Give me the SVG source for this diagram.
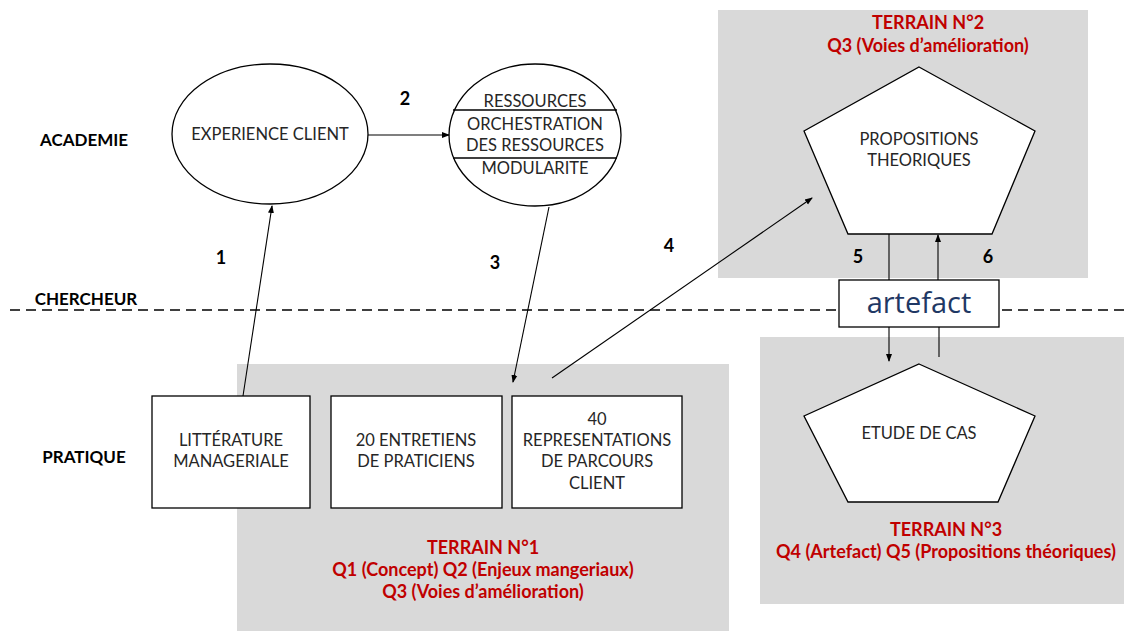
<svg xmlns="http://www.w3.org/2000/svg" width="1124" height="631" viewBox="0 0 1124 631">
<style>
text{font-family:Lato,"Open Sans",sans-serif;fill:#262626;}
.t{font-size:16.5px;text-anchor:middle;}
.lab{font-size:17px;font-weight:bold;fill:#000;text-anchor:middle;}
.num{font-size:18px;font-weight:bold;fill:#000;text-anchor:middle;}
.red{font-size:18px;font-weight:bold;fill:#c00000;text-anchor:middle;}
.shape{fill:#fff;stroke:#000;stroke-width:1.3;}
.bg{fill:#d9d9d9;}
.c{stroke:#000;stroke-width:1.1;fill:none;}
</style>
<defs>
<marker id="a" markerWidth="8" markerHeight="8" refX="7" refY="4" orient="auto" markerUnits="userSpaceOnUse">
<path d="M0,1 L8,4 L0,7 Z" fill="#000"/>
</marker>
</defs>
<rect width="1124" height="631" fill="#fff"/>
<g id="terrain1"><rect class="bg" x="237" y="364" width="492" height="267"/>
<text class="red" x="483" y="554">TERRAIN N°1</text>
<text class="red" x="483" y="576">Q1 (Concept) Q2 (Enjeux mangeriaux)</text>
<text class="red" x="483" y="598">Q3 (Voies d’amélioration)</text></g>
<g id="terrain2"><rect class="bg" x="718" y="10" width="370" height="268"/>
<text class="red" x="928" y="29">TERRAIN N°2</text>
<text class="red" x="928" y="52">Q3 (Voies d’amélioration)</text></g>
<g id="terrain3"><rect class="bg" x="760" y="337" width="364" height="267"/>
<text class="red" x="946" y="536">TERRAIN N°3</text>
<text class="red" x="946" y="558">Q4 (Artefact) Q5 (Propositions théoriques)</text></g>
<g id="lanes">
<line x1="10" y1="310" x2="1124" y2="310" stroke="#000" stroke-width="1.5" stroke-dasharray="10,6"/>
<text class="lab" x="84" y="146">ACADEMIE</text>
<text class="lab" x="86" y="305">CHERCHEUR</text>
<text class="lab" x="84" y="463">PRATIQUE</text>
</g>
<g id="experience"><ellipse class="shape" cx="270" cy="134" rx="98" ry="70"/>
<text class="t" x="270" y="140">EXPERIENCE CLIENT</text></g>
<g id="ressources"><ellipse class="shape" cx="535" cy="135" rx="86" ry="71"/>
<line x1="453" y1="110" x2="617" y2="110" stroke="#000" stroke-width="1.3"/>
<line x1="453" y1="158" x2="617" y2="158" stroke="#000" stroke-width="1.3"/>
<text class="t" x="535" y="107">RESSOURCES</text>
<text class="t" x="535" y="130">ORCHESTRATION</text>
<text class="t" x="535" y="151">DES RESSOURCES</text>
<text class="t" x="535" y="174">MODULARITE</text></g>
<g id="litterature"><rect class="shape" x="152" y="396" width="158" height="112"/>
<text class="t" x="231" y="446">LITTÉRATURE</text>
<text class="t" x="231" y="467">MANAGERIALE</text></g>
<g id="entretiens"><rect class="shape" x="331" y="396" width="171" height="112"/>
<text class="t" x="416" y="446">20 ENTRETIENS</text>
<text class="t" x="416" y="467">DE PRATICIENS</text></g>
<g id="representations"><rect class="shape" x="512" y="396" width="170" height="112"/>
<text class="t" x="597" y="425">40</text>
<text class="t" x="597" y="446">REPRESENTATIONS</text>
<text class="t" x="597" y="467">DE PARCOURS</text>
<text class="t" x="597" y="489">CLIENT</text></g>
<g id="propositions"><polygon class="shape" points="919,67 1035,131 992,234 848,234 804,131"/>
<text class="t" x="919" y="145">PROPOSITIONS</text>
<text class="t" x="919" y="166">THEORIQUES</text></g>
<g id="artefact"><rect class="shape" x="839" y="280" width="160" height="47"/>
<text x="919" y="313" style="font-size:29px;font-weight:500;fill:#1f3864;text-anchor:middle;font-family:'Open Sans',sans-serif">artefact</text></g>
<g id="etude"><polygon class="shape" points="919,364 1035,416 998,502 848,502 804,416"/>
<text class="t" x="919" y="439">ETUDE DE CAS</text></g>
<g id="connectors">
<line class="c" x1="243" y1="396" x2="272" y2="206" marker-end="url(#a)"/>
<line class="c" x1="368" y1="135" x2="449" y2="135" marker-end="url(#a)"/>
<line class="c" x1="549" y1="207" x2="513" y2="382" marker-end="url(#a)"/>
<line class="c" x1="552" y1="378" x2="812" y2="198" marker-end="url(#a)"/>
<line class="c" x1="889" y1="234" x2="889" y2="280"/>
<line class="c" x1="938" y1="280" x2="938" y2="235" marker-end="url(#a)"/>
<line class="c" x1="889" y1="327" x2="889" y2="361" marker-end="url(#a)"/>
<line class="c" x1="939" y1="327" x2="939" y2="357"/>
<text class="num" x="221" y="264">1</text>
<text class="num" x="405" y="105">2</text>
<text class="num" x="495" y="269">3</text>
<text class="num" x="669" y="252">4</text>
<text class="num" x="858" y="263">5</text>
<text class="num" x="988" y="263">6</text>
</g>
</svg>
